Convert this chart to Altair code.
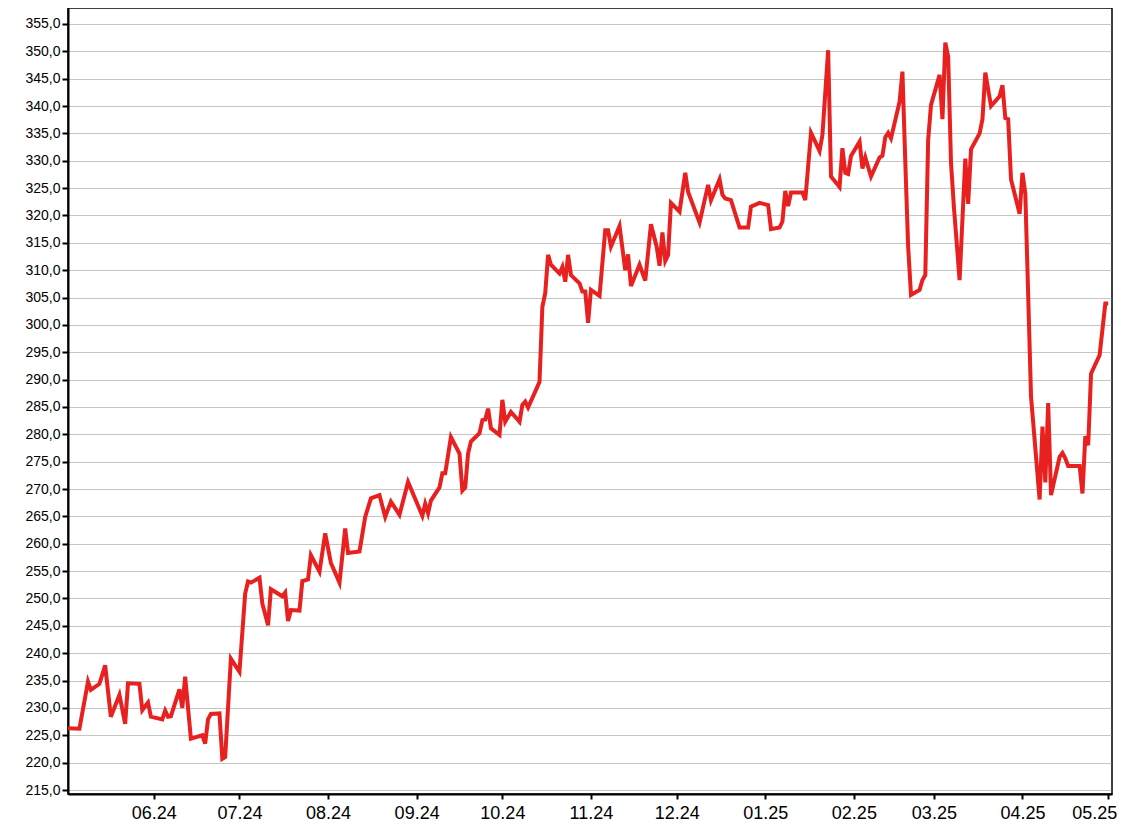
import altair as alt
import pandas as pd

dates = [
    "2024-05-02", "2024-05-06", "2024-05-09", "2024-05-10", "2024-05-13", "2024-05-15", "2024-05-17",
    "2024-05-20", "2024-05-22", "2024-05-23", "2024-05-27", "2024-05-28", "2024-05-30", "2024-05-31",
    "2024-06-04", "2024-06-05", "2024-06-06", "2024-06-07", "2024-06-10", "2024-06-11", "2024-06-12",
    "2024-06-14", "2024-06-18", "2024-06-19", "2024-06-20", "2024-06-21", "2024-06-24", "2024-06-25",
    "2024-06-26", "2024-06-28", "2024-07-01", "2024-07-03", "2024-07-04", "2024-07-05", "2024-07-08",
    "2024-07-09", "2024-07-11", "2024-07-12", "2024-07-16", "2024-07-17", "2024-07-18", "2024-07-19",
    "2024-07-22", "2024-07-23", "2024-07-25", "2024-07-26", "2024-07-29", "2024-07-31", "2024-08-02",
    "2024-08-05", "2024-08-07", "2024-08-08", "2024-08-12", "2024-08-14", "2024-08-16", "2024-08-19",
    "2024-08-21", "2024-08-23", "2024-08-26", "2024-08-29", "2024-09-03", "2024-09-04", "2024-09-05",
    "2024-09-06", "2024-09-09", "2024-09-10", "2024-09-11", "2024-09-13", "2024-09-16", "2024-09-17",
    "2024-09-18", "2024-09-19", "2024-09-20", "2024-09-23", "2024-09-24", "2024-09-25", "2024-09-26",
    "2024-09-27", "2024-09-30", "2024-10-01", "2024-10-02", "2024-10-04", "2024-10-07", "2024-10-08",
    "2024-10-09", "2024-10-10", "2024-10-13", "2024-10-14", "2024-10-15", "2024-10-16", "2024-10-17",
    "2024-10-18", "2024-10-21", "2024-10-22", "2024-10-23", "2024-10-24", "2024-10-25", "2024-10-28",
    "2024-10-29", "2024-10-30", "2024-10-31", "2024-11-01", "2024-11-04", "2024-11-06", "2024-11-07",
    "2024-11-08", "2024-11-11", "2024-11-13", "2024-11-14", "2024-11-15", "2024-11-18", "2024-11-20",
    "2024-11-22", "2024-11-24", "2024-11-25", "2024-11-26", "2024-11-27", "2024-11-28", "2024-11-29",
    "2024-12-02", "2024-12-04", "2024-12-05", "2024-12-09", "2024-12-12", "2024-12-13", "2024-12-16",
    "2024-12-17", "2024-12-18", "2024-12-20", "2024-12-23", "2024-12-26", "2024-12-27", "2024-12-30",
    "2025-01-02", "2025-01-03", "2025-01-06", "2025-01-07", "2025-01-08", "2025-01-09", "2025-01-10",
    "2025-01-14", "2025-01-15", "2025-01-17", "2025-01-20", "2025-01-21", "2025-01-23", "2025-01-24",
    "2025-01-27", "2025-01-28", "2025-01-29", "2025-01-30", "2025-01-31", "2025-02-03", "2025-02-04",
    "2025-02-05", "2025-02-07", "2025-02-10", "2025-02-11", "2025-02-12", "2025-02-13", "2025-02-14",
    "2025-02-17", "2025-02-18", "2025-02-19", "2025-02-20", "2025-02-21", "2025-02-24", "2025-02-25",
    "2025-02-26", "2025-02-27", "2025-02-28", "2025-03-03", "2025-03-04", "2025-03-05", "2025-03-06",
    "2025-03-07", "2025-03-08", "2025-03-10", "2025-03-12", "2025-03-13", "2025-03-14", "2025-03-17",
    "2025-03-18", "2025-03-19", "2025-03-21", "2025-03-24", "2025-03-25", "2025-03-26", "2025-03-27",
    "2025-03-28", "2025-03-31", "2025-04-01", "2025-04-02", "2025-04-04", "2025-04-07", "2025-04-08",
    "2025-04-09", "2025-04-10", "2025-04-11", "2025-04-14", "2025-04-15", "2025-04-16", "2025-04-17",
    "2025-04-21", "2025-04-22", "2025-04-23", "2025-04-24", "2025-04-25", "2025-04-28", "2025-04-30",
    "2025-05-01",
]

values = [
    226.3, 226.2, 234.8, 233.3, 234.4, 237.8, 228.4,
    232.4, 227.1, 234.5, 234.4, 229.6, 231.0, 228.4,
    227.9, 229.5, 228.4, 228.5, 233.4, 230.0, 235.7,
    224.4, 225.0, 223.5, 227.9, 228.9, 229.0, 220.7,
    221.0, 239.0, 236.6, 250.9, 253.1, 252.9, 253.8,
    249.1, 245.1, 251.7, 250.4, 251.1, 245.9, 247.9,
    247.8, 253.2, 253.5, 257.9, 254.9, 261.9, 256.5,
    252.9, 262.8, 258.3, 258.6, 264.9, 268.3, 268.9,
    264.9, 267.7, 265.3, 271.3, 265.1, 267.3, 265.6,
    267.9, 270.3, 272.9, 272.9, 279.5, 276.5, 269.7,
    270.3, 276.5, 278.7, 280.2, 282.6, 282.7, 284.7,
    281.1, 279.9, 286.3, 282.3, 284.1, 282.3, 285.4,
    286.0, 284.9, 288.4, 289.6, 303.3, 305.8, 312.8,
    311.0, 309.4, 310.6, 307.9, 312.8, 309.1, 307.6,
    306.1, 306.1, 300.4, 306.4, 305.3, 317.3, 317.3,
    314.3, 318.1, 310.0, 312.9, 307.1, 311.0, 308.1,
    318.4, 314.3, 310.8, 316.9, 311.7, 312.8, 322.3,
    320.7, 327.8, 324.3, 318.7, 325.6, 322.8, 326.6,
    323.8, 323.1, 322.8, 317.8, 317.8, 321.6, 322.3,
    321.9, 317.5, 317.8, 318.9, 324.5, 321.7, 324.2,
    324.2, 322.8, 335.1, 331.8, 334.7, 350.2, 327.1,
    325.2, 332.3, 327.8, 327.6, 330.9, 333.5, 328.6,
    330.6, 327.1, 330.6, 330.9, 334.3, 335.1, 334.1,
    340.8, 346.3, 329.8, 314.3, 305.5, 306.4, 308.2,
    309.1, 333.8, 340.2, 345.7, 337.6, 351.6, 349.0,
    329.6, 321.6, 308.2, 330.4, 322.1, 332.1, 335.0,
    337.6, 346.1, 340.0, 341.8, 343.8, 337.8, 337.6,
    326.6, 320.3, 327.8, 324.0, 286.9, 268.1, 281.4,
    271.2, 285.7, 268.9, 275.9, 276.6, 275.6, 274.2,
    274.2, 269.2, 279.7, 278.0, 291.1, 294.5, 303.9,
    303.9,
]

y_ticks = [215, 220, 225, 230, 235, 240, 245, 250, 255, 260, 265, 270, 275, 280, 285,
           290, 295, 300, 305, 310, 315, 320, 325, 330, 335, 340, 345, 350, 355]

x_tick_months = [(2024, 6), (2024, 7), (2024, 8), (2024, 9), (2024, 10), (2024, 11),
                 (2024, 12), (2025, 1), (2025, 2), (2025, 3), (2025, 4), (2025, 5)]

df = pd.DataFrame({"date": dates, "value": values})

x_vals = [alt.DateTime(year=y, month=m, date=1, utc=True) for y, m in x_tick_months]

chart = alt.Chart(df).mark_line(
    color="#e8201f", strokeWidth=4, strokeJoin="miter", clip=True
).encode(
    x=alt.X(
        "date:T",
        title=None,
        scale=alt.Scale(
            type="utc",
            domain=[alt.DateTime(year=2024, month=5, date=2, utc=True),
                    alt.DateTime(year=2025, month=5, date=2, hours=8, utc=True)],
        ),
        axis=alt.Axis(
            values=x_vals, labelExpr="utcFormat(datum.value, '%m.%y')", grid=False,
            tickSize=5, labelFontSize=18, labelPadding=5, labelFlush=False,
            labelOverlap=False,
            labelOffset={"condition": {"test": "datum.index == 1", "value": -14}, "value": 0},
        ),
    ),
    y=alt.Y(
        "value:Q",
        title=None,
        scale=alt.Scale(domain=[214.27, 357.92], nice=False, zero=False),
        axis=alt.Axis(
            values=y_ticks,
            labelExpr="replace(format(datum.value, '.1f'), '.', ',')",
            grid=True, gridDash=[1, 1], gridColor="#8a8a8a", gridWidth=1,
            tickSize=6, labelFontSize=14, labelPadding=2, labelOverlap=False,
        ),
    ),
).properties(
    width=1044, height=786, autosize="none",
    padding={"left": 60, "top": 0, "right": 8, "bottom": 34},
).configure_view(
    stroke="black", strokeWidth=1.5
).configure_axis(
    domainColor="black", domainWidth=2, tickColor="black", tickWidth=2,
    labelColor="black", labelFont="Liberation Sans"
)

chart.save("out.html", embed_options={"renderer": "svg", "actions": False})
